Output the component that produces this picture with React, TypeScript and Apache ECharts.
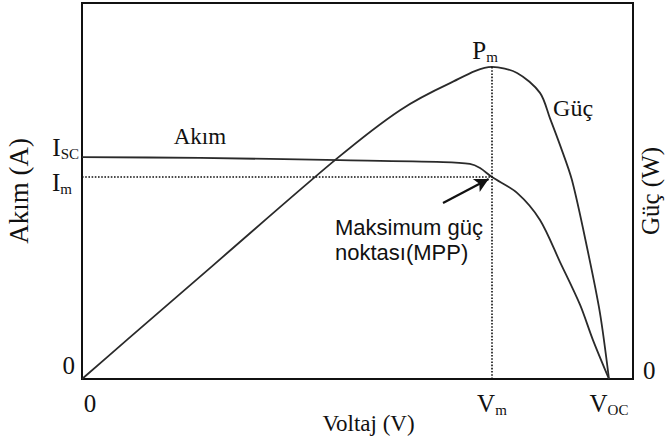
import React, { useEffect, useRef } from "react";
import * as echarts from "echarts";

// Current–voltage curve (Akım)
const VOLTAGE_I = [0, 5.35, 11.7, 16.38, 17.6, 18.06, 18.6, 19.74, 20.78, 21.69, 22.6, 23.18, 23.91];
const CURRENT = [5.9, 5.88, 5.82, 5.77, 5.72, 5.61, 5.37, 4.95, 4.23, 3.11, 1.97, 1.04, 0];

// Power–voltage curve (Güç)
const VOLTAGE_P = [0, 2.04, 6, 11.6, 14.43, 16.7, 18.6, 19.74, 20.78, 21.23, 21.69, 22.23, 22.91, 23.5, 23.91];
const POWER = [0, 1.04, 3.05, 5.88, 7.15, 7.87, 8.3, 8.14, 7.61, 6.94, 6.22, 5.29, 3.51, 1.76, 0];

// Key points
const VM = 18.6;
const VOC = 23.91;
const IM = 5.37;
const ISC = 5.9;
const PM = 8.3;

// Tick labels
const X_TICKS = [0, VM, VOC];
const X_TICK_LABELS = ["{g16| }{b|0}", "{b|V}{s|m}", "{b|V}{s|OC}"];
const Y_TICKS = [0, IM];
const Y_TICK_LABELS = ["{b|0}{g4| }\n{sp28| }", "{sp10| }\n{b|I}{s|m}{g7| }"];
const ISC_LABEL = "{b|I}{s|SC}";
const Y2_TICKS = [0];
const Y2_TICK_LABELS = ["{b|0}\n{sp18| }"];

const INK = "#111";
const SERIF = "'Liberation Serif', 'DejaVu Serif', serif";
const SANS = "'Liberation Sans', Arial, sans-serif";

const rich = {
  b: { fontFamily: SERIF, fontSize: 25, color: INK, lineHeight: 28 },
  s: { fontFamily: SERIF, fontSize: 15, color: INK, verticalAlign: "bottom" },
  g4: { width: 4, fontSize: 1 },
  g7: { width: 7, fontSize: 1 },
  g16: { width: 16, fontSize: 1 },
  sp10: { lineHeight: 10, fontSize: 1 },
  sp18: { lineHeight: 18, fontSize: 1 },
  sp20: { lineHeight: 20, fontSize: 1 },
  sp28: { lineHeight: 28, fontSize: 1 },
};

const pick = (ticks: number[], labels: string[]) => (v: number) => {
  let best = 0;
  for (let i = 1; i < ticks.length; i++) {
    if (Math.abs(ticks[i] - v) < Math.abs(ticks[best] - v)) best = i;
  }
  return labels[best];
};

const zip = (a: number[], b: number[]) => a.map((v, i) => [v, b[i]]);

export default function App() {
  const ref = useRef<HTMLDivElement>(null);
  useEffect(() => {
    if (!ref.current) return;
    const chart = echarts.init(ref.current, null, { renderer: "svg" });
    const axisLine = { show: true, onZero: false, lineStyle: { color: INK, width: 2 } };
    chart.setOption({
      animation: false,
      backgroundColor: "#fff",
      grid: {
        left: 82,
        right: 33,
        top: 3,
        bottom: 65,
        show: true,
        borderColor: INK,
        borderWidth: 2,
        containLabel: false,
        outerBoundsMode: "none",
      },
      xAxis: {
        type: "value",
        min: 0,
        max: 25,
        axisLine,
        axisTick: { show: false },
        splitLine: { show: false },
        axisLabel: {
          customValues: X_TICKS,
          formatter: pick(X_TICKS, X_TICK_LABELS),
          rich,
          margin: 10,
          hideOverlap: false,
        },
        name: "Voltaj (V)",
        nameLocation: "middle",
        nameGap: 33,
        nameMoveOverlap: false,
        nameTextStyle: {
          fontFamily: SERIF,
          fontSize: 23,
          color: INK,
          padding: [0, 0, 0, 22],
        },
      },
      yAxis: [
        {
          type: "value",
          min: 0,
          max: 10,
          position: "left",
          axisLine,
          axisTick: { show: false },
          splitLine: { show: false },
          axisLabel: {
            customValues: Y_TICKS,
            formatter: pick(Y_TICKS, Y_TICK_LABELS),
            rich,
            margin: 3,
            hideOverlap: false,
          },
          name: "Akım (A)",
          nameLocation: "middle",
          nameGap: 50,
          nameMoveOverlap: false,
          nameRotate: 90,
          nameTextStyle: { fontFamily: SERIF, fontSize: 27, color: INK },
        },
        {
          type: "value",
          min: 0,
          max: 10,
          position: "right",
          axisLine,
          axisTick: { show: false },
          splitLine: { show: false },
          axisLabel: {
            customValues: Y2_TICKS,
            formatter: pick(Y2_TICKS, Y2_TICK_LABELS),
            rich,
            margin: 10,
            hideOverlap: false,
          },
          name: "Güç (W)",
          nameLocation: "middle",
          nameGap: 5,
          nameMoveOverlap: false,
          nameRotate: 90,
          nameTextStyle: { fontFamily: SERIF, fontSize: 25, color: INK },
        },
      ],
      series: [
        {
          name: "Akım",
          type: "line",
          yAxisIndex: 0,
          data: zip(VOLTAGE_I, CURRENT),
          smooth: 0.3,
          showSymbol: false,
          lineStyle: { color: "#2a2a2a", width: 1.8 },
          z: 3,
          markLine: {
            silent: true,
            symbol: "none",
            label: { show: false },
            lineStyle: { color: INK, type: "dotted", width: 1.6 },
            data: [
              [{ coord: [0, IM] }, { coord: [VM, IM] }],
              [{ coord: [VM, 0] }, { coord: [VM, PM] }],
            ],
          },
          markPoint: {
            silent: true,
            symbol: "circle",
            symbolSize: 0,
            data: [
              {
                coord: [0, ISC],
                label: {
                  show: true,
                  position: "left",
                  distance: 3,
                  offset: [0, -10],
                  formatter: ISC_LABEL,
                  rich,
                },
              },
              {
                coord: [5.35, 6.46],
                label: {
                  show: true,
                  position: "inside",
                  formatter: "Akım",
                  fontFamily: SERIF,
                  fontSize: 23,
                  color: INK,
                },
              },
              {
                coord: [11.48, 3.7],
                label: {
                  show: true,
                  position: "right",
                  distance: 0,
                  align: "left",
                  formatter: "Maksimum güç\nnoktası(MPP)",
                  fontFamily: SANS,
                  fontSize: 22,
                  lineHeight: 25,
                  color: INK,
                },
              },
            ],
          },
        },
        {
          name: "Güç",
          type: "line",
          yAxisIndex: 1,
          data: zip(VOLTAGE_P, POWER),
          smooth: 0.3,
          showSymbol: false,
          lineStyle: { color: "#2a2a2a", width: 1.8 },
          z: 3,
          markLine: {
            silent: true,
            label: { show: false },
            symbol: ["none", "arrow"],
            symbolSize: [11, 14],
            lineStyle: { color: INK, type: "solid", width: 2.2 },
            data: [[{ coord: [16.38, 4.68] }, { coord: [18.45, 5.32] }]],
          },
          markPoint: {
            silent: true,
            symbol: "circle",
            symbolSize: 0,
            data: [
              {
                coord: [22.28, 7.21],
                label: {
                  show: true,
                  position: "inside",
                  formatter: "Güç",
                  fontFamily: SERIF,
                  fontSize: 24,
                  color: INK,
                },
              },
              {
                coord: [18.29, 8.75],
                label: {
                  show: true,
                  position: "inside",
                  formatter: "{b|P}{s|m}",
                  rich,
                },
              },
            ],
          },
        },
      ],
    });
    return () => chart.dispose();
  }, []);
  return (
    <div
      ref={ref}
      style={{ position: "absolute", left: 0, top: 0, width: 666, height: 444 }}
    />
  );
}
